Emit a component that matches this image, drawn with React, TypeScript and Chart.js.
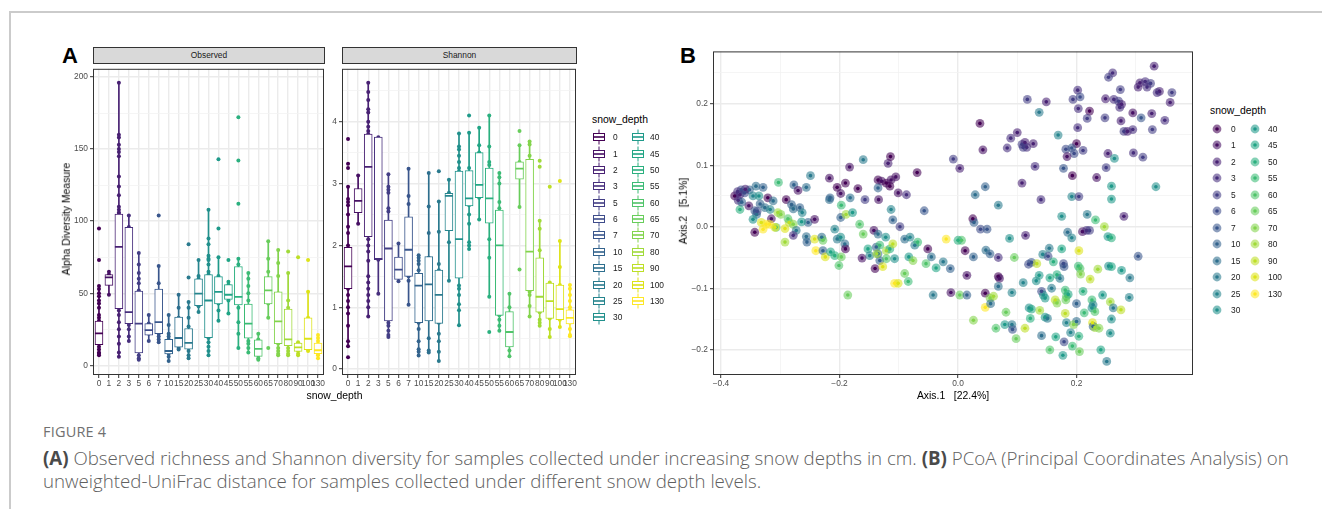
import React, { useEffect, useRef } from "react";
import { Chart, registerables } from "chart.js";

Chart.register(...registerables);

const FONT = '"Liberation Sans", Arial, Helvetica, sans-serif';
const CAPTION_FONT = '"Open Sans", "Noto Sans", sans-serif';
Chart.defaults.font.family = FONT;
Chart.defaults.color = "#4d4d4d";

// ---------- categories ----------
const depthLabels = ["0", "1", "2", "3", "5", "6", "7", "10", "15", "20", "25", "30", "40", "45", "50", "55", "60", "65", "70", "80", "90", "100", "130"];
const depthColors = ["#440154", "#471164", "#482173", "#472F7D", "#433E85", "#3E4C8A", "#39568C", "#33638D", "#2E6F8E", "#2A7A8E", "#26858E", "#21908C", "#1F9A8A", "#21A585", "#2BB07F", "#3BBB75", "#50C46A", "#68CD5B", "#83D44C", "#A0DA39", "#BDDF26", "#DDE318", "#FDE725"];

// ---------- Observed richness ----------
const obsLow = [7, 49, 6, 17, 4, 17, 16, 3, 11, 5, 37, 7, 31, 36, 12, 9, 4, 33, 7, 7, 7, 10, 5];
const obsQ1 = [14.3, 55.5, 39.4, 29, 8.6, 21, 22, 8, 12.7, 11.3, 41.4, 19.3, 42.6, 45.8, 42, 18.8, 6.3, 42.6, 15, 13.6, 9.7, 10.9, 8.2];
const obsMed = [22.2, 61, 82.2, 37, 29, 24.5, 30, 10, 19, 15.6, 49.8, 45, 51, 49, 47.5, 29, 11.5, 52, 30.5, 18, 12.5, 18.5, 10.5];
const obsQ3 = [30.8, 63, 105, 95.8, 51.6, 29, 53, 18, 33.5, 25.6, 60, 63, 61.6, 56, 68.6, 42.6, 17.7, 61.6, 51, 39, 15.4, 33, 15.4];
const obsHigh = [55, 65, 196, 104, 78, 35, 69, 35, 49, 44, 73, 108, 75, 58, 74, 64, 22, 86, 80, 64, 16, 51, 21];
const obsPoints: number[][] = [
  [95, 73, 55, 53, 50, 48, 45, 43, 40, 35, 33, 31, 28, 25, 22, 20, 18, 15, 13, 11, 9, 8, 7],
  [65, 63, 61, 60, 49],
  [196, 160, 158, 153, 150, 148, 145, 131, 124, 118, 110, 108, 106, 105, 100, 95, 90, 85, 82, 75, 70, 65, 60, 55, 50, 45, 38, 35, 30, 25, 20, 15, 9, 6],
  [104, 96, 90, 75, 60, 40, 37, 35, 30, 28, 25, 20, 17],
  [78, 70, 64, 60, 57, 52, 48, 45, 40, 35, 30, 25, 20, 15, 10, 7, 5, 4],
  [35, 29, 25, 22, 17],
  [104, 69, 57, 45, 40, 30, 22, 20, 18, 16],
  [35, 28, 22, 20, 18, 15, 12, 10, 8, 6, 3],
  [49, 40, 33, 28, 22, 19, 15, 12, 11],
  [84, 61, 44, 40, 33, 27, 22, 18, 15, 12, 10, 7, 5],
  [73, 62, 60, 52, 48, 44, 41, 37],
  [108, 88, 84, 76, 74, 73, 70, 65, 63, 55, 45, 40, 35, 30, 19, 16, 13, 10, 7],
  [143, 95, 75, 62, 55, 51, 47, 43, 38, 31],
  [73, 58, 56, 50, 47, 45, 36],
  [172, 142, 112, 74, 70, 64, 60, 55, 50, 47, 44, 40, 30, 22, 12],
  [64, 60, 55, 50, 45, 40, 35, 30, 25, 20, 17, 15, 12, 9],
  [22, 18, 14, 10, 7, 5, 4],
  [86, 74, 65, 60, 55, 52, 48, 43, 33, 12],
  [80, 71, 62, 50, 40, 30, 20, 15, 12, 10, 8, 7],
  [79, 64, 45, 40, 38, 30, 20, 18, 15, 12, 10, 8, 7],
  [75, 16, 15, 13, 12, 10, 8, 7],
  [73, 51, 33, 20, 15, 11, 10],
  [21, 19, 17, 15, 13, 11, 10, 8, 7, 5],
];

// ---------- Shannon diversity ----------
const shaLow = [0.37, 2.35, 0.85, 1.22, 0.52, 1.42, 1.04, 0.22, 0.27, 0.13, 1.43, 0.71, 1.94, 2.42, 1.17, 0.62, 0.21, 2.62, 0.85, 0.7, 0.52, 0.68, 0.53];
const shaQ1 = [1.3, 2.53, 2.14, 1.77, 0.78, 1.45, 1.5, 0.75, 0.78, 0.74, 2.24, 1.47, 2.64, 2.77, 2.36, 0.87, 0.36, 3.07, 1.27, 0.92, 0.82, 0.8, 0.73];
const shaMed = [1.66, 2.72, 3.27, 1.78, 1.95, 1.61, 1.93, 1.35, 1.37, 1.2, 2.8, 2.1, 2.76, 2.98, 2.76, 2.0, 0.6, 3.24, 1.9, 1.17, 1.1, 0.97, 0.83];
const shaQ3 = [1.97, 2.92, 3.8, 3.75, 2.41, 1.81, 2.46, 1.55, 1.82, 1.6, 2.84, 3.2, 3.21, 3.5, 3.25, 2.57, 0.93, 3.35, 3.39, 1.8, 1.39, 1.36, 0.96];
const shaHigh = [2.95, 3.13, 4.63, 3.75, 3.15, 2.03, 3.24, 1.84, 3.17, 2.71, 3.06, 3.81, 3.82, 3.9, 4.1, 3.17, 1.22, 3.62, 3.68, 2.4, 1.4, 2.07, 1.36];
const shaPoints: number[][] = [
  [3.72, 3.32, 3.25, 2.95, 2.75, 2.7, 2.65, 2.5, 2.3, 2.2, 2.0, 1.9, 1.8, 1.7, 1.6, 1.5, 1.3, 1.2, 1.1, 1.0, 0.9, 0.7, 0.45, 0.37, 0.19],
  [3.13, 2.72, 2.35],
  [4.63, 4.48, 4.35, 4.2, 4.15, 4.0, 3.92, 3.85, 3.8, 3.7, 3.6, 3.5, 3.3, 3.1, 2.9, 2.7, 2.5, 2.2, 2.1, 2.0, 1.9, 1.75, 1.5, 1.4, 1.3, 1.2, 1.1, 1.0, 0.85],
  [3.75, 1.77, 1.22],
  [3.15, 2.95, 2.9, 2.85, 2.6, 2.55, 2.2, 1.9, 1.6, 1.3, 1.0, 0.75, 0.7, 0.62, 0.55, 0.52],
  [2.03, 1.6, 1.42],
  [3.24, 2.8, 2.67, 2.0, 1.93, 1.5, 1.43, 1.04],
  [1.84, 1.8, 1.75, 1.7, 1.6, 1.5, 1.4, 1.3, 1.2, 1.0, 0.9, 0.75, 0.65, 0.45, 0.32, 0.28, 0.22],
  [3.17, 2.63, 2.2, 1.8, 1.4, 1.0, 0.5, 0.3, 0.27],
  [3.2, 2.71, 2.22, 1.7, 1.6, 1.5, 1.3, 1.0, 0.75, 0.57, 0.45, 0.28, 0.13],
  [3.06, 2.85, 2.8, 2.05, 1.43],
  [3.81, 3.6, 3.55, 3.45, 3.35, 3.25, 3.2, 3.0, 2.5, 2.1, 1.8, 1.5, 1.35, 1.3, 1.2, 1.05, 0.95, 0.71],
  [4.1, 3.82, 3.25, 3.0, 2.76, 2.65, 2.5, 2.35, 2.05, 2.0, 1.94],
  [3.9, 3.62, 3.5, 3.0, 2.77, 2.42],
  [4.1, 3.6, 3.35, 3.3, 3.2, 3.0, 2.8, 2.6, 2.4, 2.1, 1.8, 1.17, 0.6],
  [3.17, 3.1, 3.0, 2.7, 2.6, 2.5, 2.0, 1.5, 1.0, 0.87, 0.8, 0.7, 0.62],
  [1.22, 1.0, 0.8, 0.6, 0.4, 0.3, 0.21],
  [3.85, 3.62, 3.35, 3.24, 3.1, 2.62, 1.61],
  [3.68, 3.63, 3.45, 3.0, 2.5, 2.0, 1.5, 1.25, 1.2, 1.02, 0.85],
  [3.37, 3.27, 2.4, 2.27, 1.92, 1.75, 1.5, 1.2, 1.0, 0.92, 0.8, 0.75, 0.7],
  [2.95, 1.4, 1.35, 1.1, 0.95, 0.82, 0.65, 0.52],
  [3.04, 2.07, 1.65, 1.36, 1.0, 0.9, 0.8, 0.68],
  [1.36, 1.3, 1.2, 1.1, 1.0, 0.95, 0.85, 0.75, 0.65, 0.55, 0.53],
];

// ---------- PCoA samples: [Axis.1, Axis.2, snow_depth] ----------
const pcoaSamples: number[][] = [
  [0.331, 0.261, 2], [0.261, 0.25, 3], [0.254, 0.243, 5], [0.307, 0.234, 2], [0.316, 0.236, 3], [0.325, 0.233, 5],
  [0.304, 0.227, 2], [0.319, 0.227, 3], [0.274, 0.223, 5], [0.34, 0.22, 2], [0.336, 0.218, 3], [0.361, 0.218, 5],
  [0.358, 0.202, 2], [0.202, 0.222, 3], [0.206, 0.211, 6], [0.194, 0.207, 5], [0.249, 0.208, 2], [0.263, 0.207, 3],
  [0.271, 0.204, 5], [0.276, 0.199, 2], [0.273, 0.194, 3], [0.117, 0.207, 5], [0.149, 0.203, 2], [0.137, 0.186, 20],
  [0.203, 0.192, 3], [0.222, 0.188, 0], [0.218, 0.176, 5], [0.295, 0.185, 1], [0.327, 0.184, 2], [0.309, 0.177, 7],
  [0.349, 0.173, 3], [0.248, 0.177, 5], [0.275, 0.172, 2], [0.037, 0.168, 0], [0.202, 0.161, 3], [0.28, 0.155, 5],
  [0.286, 0.155, 2], [0.295, 0.158, 3], [0.328, 0.158, 5], [0.169, 0.149, 25], [0.1, 0.153, 2], [0.089, 0.144, 3],
  [0.108, 0.134, 5], [0.113, 0.137, 2], [0.116, 0.129, 3], [0.11, 0.129, 5], [0.127, 0.135, 2], [0.083, 0.128, 3],
  [0.042, 0.125, 1], [0.2, 0.135, 0], [0.182, 0.126, 6], [0.192, 0.128, 7], [0.196, 0.119, 6], [0.184, 0.114, 1],
  [0.211, 0.124, 5], [0.253, 0.119, 2], [0.264, 0.111, 30], [0.296, 0.12, 3], [0.312, 0.113, 5], [0.003, 0.095, 2],
  [0.13, 0.098, 3], [0.178, 0.095, 7], [0.193, 0.083, 0], [0.234, 0.08, 1], [0.25, 0.096, 5], [0.108, 0.071, 2],
  [0.046, 0.065, 10], [0.029, 0.052, 15], [0.259, 0.066, 40], [0.334, 0.065, 30], [0.068, 0.035, 20], [0.14, 0.044, 3],
  [0.192, 0.049, 25], [0.204, 0.049, 5], [0.259, 0.045, 40], [0.025, 0.013, 0], [0.027, 0.007, 10], [0.175, 0.017, 30],
  [0.218, 0.02, 20], [0.232, 0.011, 55], [0.28, 0.017, 2], [0.038, -0.004, 6], [0.049, -0.004, 7], [0.247, 0.0, 80],
  [0.21, -0.008, 1], [0.217, -0.006, 3], [0.222, -0.006, 5], [0.185, -0.009, 15], [0.192, -0.018, 25], [0.087, -0.019, 30],
  [0.114, -0.014, 2], [0.253, -0.016, 40], [0.259, -0.018, 50], [0.006, -0.022, 60], [0.012, -0.039, 0], [0.026, -0.049, 10],
  [0.047, -0.038, 15], [0.054, -0.044, 10], [0.068, -0.05, 3], [0.095, -0.05, 65], [0.154, -0.035, 20], [0.175, -0.036, 45],
  [0.143, -0.045, 25], [0.152, -0.048, 6], [0.204, -0.039, 100], [0.304, -0.048, 7], [0.119, -0.061, 6], [0.124, -0.058, 7],
  [0.133, -0.06, 90], [0.161, -0.057, 50], [0.178, -0.06, 6], [0.179, -0.065, 7], [0.203, -0.064, 55], [0.206, -0.068, 60],
  [0.207, -0.077, 70], [0.236, -0.069, 80], [0.254, -0.064, 30], [0.259, -0.065, 45], [0.276, -0.071, 40], [0.29, -0.083, 20],
  [0.223, -0.085, 90], [0.015, -0.079, 1], [0.068, -0.081, 0], [0.07, -0.084, 1], [0.068, -0.097, 15], [0.11, -0.091, 25],
  [0.132, -0.088, 30], [0.137, -0.079, 40], [0.155, -0.083, 45], [0.167, -0.078, 50], [0.172, -0.084, 20], [0.003, -0.111, 65],
  [0.015, -0.111, 10], [0.046, -0.108, 0], [0.054, -0.116, 70], [0.06, -0.113, 80], [0.046, -0.131, 130], [0.055, -0.125, 15],
  [0.091, -0.107, 25], [0.141, -0.105, 6], [0.144, -0.111, 30], [0.147, -0.116, 40], [0.158, -0.1, 20], [0.181, -0.103, 55],
  [0.183, -0.113, 60], [0.186, -0.11, 45], [0.182, -0.119, 65], [0.164, -0.119, 90], [0.167, -0.124, 70], [0.2, -0.125, 10],
  [0.211, -0.105, 50], [0.226, -0.119, 55], [0.228, -0.127, 25], [0.226, -0.132, 30], [0.231, -0.138, 60], [0.244, -0.111, 40],
  [0.257, -0.122, 80], [0.262, -0.132, 20], [0.275, -0.135, 90], [0.289, -0.115, 25], [0.026, -0.152, 70], [0.081, -0.139, 65],
  [0.12, -0.132, 30], [0.124, -0.134, 45], [0.138, -0.136, 80], [0.147, -0.147, 40], [0.151, -0.149, 20], [0.122, -0.149, 50],
  [0.181, -0.141, 90], [0.183, -0.156, 25], [0.2, -0.154, 15], [0.195, -0.159, 70], [0.213, -0.14, 55], [0.227, -0.156, 100],
  [0.228, -0.162, 10], [0.231, -0.164, 80], [0.238, -0.165, 70], [0.259, -0.15, 30], [0.064, -0.165, 60], [0.079, -0.159, 40],
  [0.091, -0.159, 20], [0.092, -0.167, 7], [0.113, -0.165, 90], [0.098, -0.182, 65], [0.141, -0.177, 15], [0.165, -0.179, 45],
  [0.19, -0.172, 25], [0.204, -0.178, 50], [0.257, -0.173, 30], [0.179, -0.187, 6], [0.193, -0.194, 55], [0.155, -0.2, 60],
  [0.177, -0.209, 40], [0.205, -0.203, 65], [0.241, -0.2, 45], [0.251, -0.219, 20],
  [-0.377, 0.05, 0], [-0.368, 0.052, 2], [-0.36, 0.055, 6], [-0.371, 0.043, 3], [-0.352, 0.06, 10], [-0.341, 0.066, 15],
  [-0.329, 0.064, 10], [-0.346, 0.05, 25], [-0.336, 0.05, 30], [-0.368, 0.028, 50], [-0.353, 0.034, 1], [-0.321, 0.047, 0],
  [-0.312, 0.042, 15], [-0.303, 0.072, 55], [-0.277, 0.068, 10], [-0.27, 0.059, 1], [-0.256, 0.064, 15], [-0.249, 0.083, 20],
  [-0.29, 0.044, 0], [-0.281, 0.036, 10], [-0.278, 0.029, 15], [-0.267, 0.031, 10], [-0.263, 0.023, 25], [-0.343, 0.026, 7],
  [-0.34, 0.02, 15], [-0.346, 0.012, 30], [-0.332, 0.007, 100], [-0.324, 0.004, 130], [-0.315, 0.013, 1], [-0.304, 0.023, 80],
  [-0.307, -0.001, 60], [-0.292, -0.003, 100], [-0.285, 0.007, 90], [-0.278, 0.004, 70], [-0.273, -0.006, 20], [-0.278, -0.014, 3],
  [-0.343, -0.009, 0], [-0.329, -0.004, 130], [-0.292, -0.025, 80], [-0.253, 0.007, 10], [-0.264, 0.008, 40], [-0.242, 0.012, 1],
  [-0.256, -0.016, 15], [-0.255, -0.025, 10], [-0.242, -0.02, 100], [-0.23, -0.017, 15], [-0.228, -0.022, 65], [-0.24, -0.039, 130],
  [-0.228, -0.039, 10], [-0.224, -0.049, 100], [-0.215, -0.041, 45], [-0.208, -0.047, 50], [-0.201, -0.063, 60], [-0.197, -0.049, 65],
  [-0.208, -0.004, 25], [-0.198, -0.017, 30], [-0.204, -0.02, 20], [-0.191, -0.028, 15], [-0.19, -0.036, 0], [-0.198, 0.015, 10],
  [-0.189, 0.02, 80], [-0.178, 0.023, 40], [-0.197, 0.035, 55], [-0.217, 0.044, 15], [-0.216, 0.047, 10], [-0.217, 0.079, 1],
  [-0.204, 0.064, 0], [-0.198, 0.054, 1], [-0.19, 0.071, 0], [-0.183, 0.097, 1], [-0.182, 0.047, 15], [-0.169, 0.062, 0],
  [-0.16, 0.109, 20], [-0.157, 0.044, 5], [-0.134, 0.044, 1], [-0.135, 0.076, 0], [-0.129, 0.074, 1], [-0.121, 0.071, 0],
  [-0.113, 0.076, 1], [-0.115, 0.066, 0], [-0.105, 0.081, 1], [-0.118, 0.103, 2], [-0.114, 0.114, 0], [-0.135, 0.063, 10],
  [-0.101, 0.055, 1], [-0.087, 0.052, 3], [-0.069, 0.088, 0], [-0.113, 0.028, 25], [-0.166, 0.004, 60], [-0.16, -0.012, 65],
  [-0.142, -0.006, 1], [-0.135, -0.012, 15], [-0.122, -0.017, 30], [-0.11, 0.011, 10], [-0.098, 0.0, 5], [-0.09, -0.02, 15],
  [-0.073, -0.03, 20], [-0.068, -0.025, 55], [-0.051, -0.036, 0], [-0.152, -0.036, 45], [-0.149, -0.047, 25], [-0.162, -0.051, 1],
  [-0.138, -0.033, 10], [-0.135, -0.044, 15], [-0.121, -0.039, 80], [-0.115, -0.036, 50], [-0.11, -0.028, 90], [-0.132, -0.055, 10],
  [-0.121, -0.052, 60], [-0.107, -0.052, 30], [-0.14, -0.068, 0], [-0.127, -0.065, 100], [-0.09, -0.076, 65], [-0.084, -0.089, 55],
  [-0.107, -0.092, 130], [-0.101, -0.092, 100], [-0.083, -0.049, 40], [-0.076, -0.055, 70], [-0.054, -0.06, 60], [-0.045, -0.049, 15],
  [-0.037, -0.067, 45], [-0.025, -0.057, 20], [-0.013, -0.068, 10], [-0.02, -0.02, 130], [0.0, -0.022, 50], [-0.008, 0.11, 5],
  [-0.057, 0.026, 7], [-0.186, -0.111, 65], [-0.042, -0.111, 20], [-0.012, -0.107, 1], [-0.081, -0.017, 25], [-0.132, -0.03, 55],
  [-0.137, -0.044, 80], [-0.359, 0.061, 2], [-0.366, 0.06, 6], [-0.334, 0.037, 10], [-0.326, 0.031, 15], [-0.317, 0.028, 25],
  [-0.339, 0.025, 6], [-0.309, -0.001, 100], [-0.318, 0.004, 130], [-0.299, 0.02, 70], [-0.287, 0.013, 60], [-0.365, 0.04, 10],
  [-0.372, 0.057, 3],
];

// ---------- tick lists ----------
const obsYTicks = [0, 25, 50, 75, 100, 125, 150, 175, 200];
const obsYMajor = [0, 50, 100, 150, 200];
const shaYTicks = [0, 0.5, 1, 1.5, 2, 2.5, 3, 3.5, 4, 4.5];
const shaYMajor = [0, 1, 2, 3, 4];
const pcoaXTicks = [-0.4, -0.3, -0.2, -0.1, 0, 0.1, 0.2, 0.3];
const pcoaXMajor = [-0.4, -0.2, 0, 0.2];
const pcoaYTicks = [-0.2, -0.15, -0.1, -0.05, 0, 0.05, 0.1, 0.15, 0.2, 0.25];
const pcoaYMajor = [-0.2, -0.1, 0, 0.1, 0.2];

// ---------- helpers ----------
const TICK_SIZE = 8.4;
const TITLE_SIZE = 10.4;

function hexA(hex: string, a: number) {
  const r = parseInt(hex.slice(1, 3), 16), g = parseInt(hex.slice(3, 5), 16), b = parseInt(hex.slice(5, 7), 16);
  return `rgba(${r},${g},${b},${a})`;
}
const colorOfDepth = (d: number) => depthColors[depthLabels.indexOf(String(d))];

const framePlugin = {
  id: "panelFrame",
  afterDatasetsDraw(chart: any) {
    const { ctx, chartArea } = chart;
    ctx.save();
    ctx.strokeStyle = "#333333";
    ctx.lineWidth = 1;
    ctx.strokeRect(chartArea.left + 0.5, chartArea.top + 0.5, chartArea.right - chartArea.left - 1, chartArea.bottom - chartArea.top - 1);
    ctx.restore();
  },
};

function near(list: number[], v: number) {
  return list.some((m) => Math.abs(m - v) < 1e-9);
}

function numAxis(axis: "x" | "y", min: number, max: number, ticks: number[], major: number[], size: number, fmt: (v: number) => string) {
  const isMajor = (ctx: any) => (ctx && ctx.tick ? near(major, ctx.tick.value) : true);
  return {
    type: "linear",
    min,
    max,
    offset: false,
    afterBuildTicks: (s: any) => {
      s.ticks = ticks.map((v) => ({ value: v }));
    },
    afterFit: (s: any) => {
      if (axis === "y") s.width = size;
      else s.height = size;
      s.paddingTop = 0;
      s.paddingBottom = 0;
      s.paddingLeft = 0;
      s.paddingRight = 0;
    },
    ticks: {
      autoSkip: false,
      maxRotation: 0,
      minRotation: 0,
      padding: axis === "y" ? 2 : 1,
      color: "#4d4d4d",
      font: { size: TICK_SIZE, family: FONT },
      callback: (v: number) => (near(major, v) ? fmt(v) : ""),
    },
    grid: {
      offset: false,
      color: (c: any) => (isMajor(c) ? "#ebebeb" : "#f3f3f3"),
      lineWidth: (c: any) => (isMajor(c) ? 1.4 : 0.8),
      tickColor: (c: any) => (isMajor(c) ? "#333333" : "rgba(0,0,0,0)"),
      tickLength: 3,
      tickWidth: 1,
    },
    border: { display: false },
  };
}

function boxChartConfig(low: number[], q1: number[], med: number[], q3: number[], high: number[], pts: number[][], yMin: number, yMax: number, yTicks: number[], yMajor: number[], yWidth: number) {
  const pointData: any[] = [];
  const pointColors: string[] = [];
  pts.forEach((arr, i) =>
    arr.forEach((v) => {
      pointData.push({ x: i, y: v });
      pointColors.push(depthColors[i]);
    })
  );
  const catIdx = depthLabels.map((_, i) => i);
  return {
    type: "bar",
    data: {
      datasets: [
        {
          type: "scatter",
          data: pointData,
          pointBackgroundColor: pointColors,
          pointBorderWidth: 0,
          pointRadius: 2,
          order: 4,
        },
        {
          type: "bar",
          data: low.map((l, i) => ({ x: i, y: [l, high[i]] })),
          backgroundColor: depthColors,
          borderWidth: 0,
          barThickness: 1,
          grouped: false,
          order: 3,
        },
        {
          type: "bar",
          data: q1.map((q, i) => ({ x: i, y: [q, q3[i]] })),
          backgroundColor: "#ffffff",
          borderColor: depthColors,
          borderWidth: 1,
          borderSkipped: false,
          barThickness: 8,
          grouped: false,
          order: 2,
        },
        {
          type: "scatter",
          data: med.map((m, i) => ({ x: i, y: m })),
          pointStyle: "line",
          pointRadius: 4,
          pointBorderColor: depthColors,
          pointBorderWidth: 1.8,
          order: 1,
        },
      ],
    },
    options: {
      animation: false,
      responsive: false,
      maintainAspectRatio: false,
      events: [],
      layout: { padding: { left: 0, right: 6, top: 0, bottom: 0 } },
      plugins: { legend: { display: false }, tooltip: { enabled: false } },
      scales: {
        x: numAxis("x", -0.6, catIdx.length - 0.4, catIdx, catIdx, 25, (v) => depthLabels[v]),
        y: numAxis("y", yMin, yMax, yTicks, yMajor, yWidth, (v) => String(v)),
      },
    },
    plugins: [framePlugin],
  };
}

const fmtDec = (v: number) => (Math.abs(v) < 1e-9 ? "0.0" : (v < 0 ? "\u2212" : "") + Math.abs(v).toFixed(1));

function pcoaConfig() {
  const pts = pcoaSamples.map((s) => ({ x: s[0], y: s[1] }));
  const solid = pcoaSamples.map((s) => colorOfDepth(s[2]));
  const halo = pcoaSamples.map((s) => hexA(colorOfDepth(s[2]), 0.58));
  return {
    type: "scatter",
    data: {
      datasets: [
        { data: pts, pointRadius: 4.4, pointBackgroundColor: halo, pointBorderWidth: 0, order: 2 },
        { data: pts, pointRadius: 1.8, pointBackgroundColor: solid, pointBorderWidth: 0, order: 1 },
      ],
    },
    options: {
      animation: false,
      responsive: false,
      maintainAspectRatio: false,
      events: [],
      layout: { padding: { left: 0, right: 6, top: 0, bottom: 0 } },
      plugins: { legend: { display: false }, tooltip: { enabled: false } },
      scales: {
        x: numAxis("x", -0.4135, 0.3966, pcoaXTicks, pcoaXMajor, 25, fmtDec),
        y: numAxis("y", -0.241, 0.285, pcoaYTicks, pcoaYMajor, 53, fmtDec),
      },
    },
    plugins: [framePlugin],
  };
}

function ChartCanvas(props: { left: number; top: number; width: number; height: number; make: () => any }) {
  const ref = useRef<HTMLCanvasElement>(null);
  useEffect(() => {
    const chart = new Chart(ref.current as HTMLCanvasElement, props.make());
    return () => chart.destroy();
  }, []);
  return (
    <canvas
      ref={ref}
      width={props.width}
      height={props.height}
      style={{ position: "absolute", left: props.left, top: props.top, width: props.width, height: props.height }}
    />
  );
}

function Txt(props: { x: number; y: number; size: number; children: any; anchor?: "left" | "center"; rotate?: boolean; bold?: boolean; color?: string; family?: string; weight?: number; style?: any }) {
  const { x, y, size, anchor = "left", rotate, bold, color = "#000", family = FONT } = props;
  const tr = rotate ? "translate(-50%,-50%) rotate(-90deg)" : anchor === "center" ? "translate(-50%,-50%)" : "translate(0,-50%)";
  return (
    <div
      style={{
        position: "absolute",
        left: x,
        top: y,
        transform: tr,
        fontFamily: family,
        fontSize: size,
        lineHeight: 1,
        fontWeight: bold ? 700 : props.weight || 400,
        color,
        whiteSpace: "pre",
        ...(props.style || {}),
      }}
    >
      {props.children}
    </div>
  );
}

function BoxKey({ x, y, color }: { x: number; y: number; color: string }) {
  return (
    <svg width={16} height={16} style={{ position: "absolute", left: x - 8, top: y - 8 }}>
      <line x1={8} y1={0.5} x2={8} y2={15.5} stroke={color} strokeWidth={1} />
      <rect x={2.5} y={4.5} width={11} height={7} fill="#fff" stroke={color} strokeWidth={1} />
      <line x1={2.5} y1={8} x2={13.5} y2={8} stroke={color} strokeWidth={1.6} />
    </svg>
  );
}

function DotKey({ x, y, color }: { x: number; y: number; color: string }) {
  return (
    <svg width={12} height={12} style={{ position: "absolute", left: x - 6, top: y - 6 }}>
      <circle cx={6} cy={6} r={4.4} fill={hexA(color, 0.58)} />
      <circle cx={6} cy={6} r={1.8} fill={color} />
    </svg>
  );
}

export default function App() {
  const legendA: any[] = [];
  const legendB: any[] = [];
  depthLabels.forEach((lab, i) => {
    const col = i < 12 ? 0 : 1;
    const row = i < 12 ? i : i - 12;
    const ya = 137.3 + 16.36 * row;
    const yb = 129 + 16.45 * row;
    legendA.push(<BoxKey key={"ka" + i} x={col === 0 ? 598.5 : 637.5} y={ya} color={depthColors[i]} />);
    legendA.push(
      <Txt key={"ta" + i} x={col === 0 ? 613 : 650} y={ya} size={TICK_SIZE} color="#1a1a1a">
        {lab}
      </Txt>
    );
    legendB.push(<DotKey key={"kb" + i} x={col === 0 ? 1217 : 1255} y={yb} color={depthColors[i]} />);
    legendB.push(
      <Txt key={"tb" + i} x={col === 0 ? 1231 : 1268} y={yb} size={TICK_SIZE} color="#1a1a1a">
        {lab}
      </Txt>
    );
  });

  const strip = (left: number, width: number, label: string) => (
    <div
      style={{
        position: "absolute",
        left,
        top: 47,
        width,
        height: 17,
        boxSizing: "border-box",
        background: "#d9d9d9",
        border: "1px solid #333333",
        fontFamily: FONT,
        fontSize: TICK_SIZE,
        color: "#1a1a1a",
        display: "flex",
        alignItems: "center",
        justifyContent: "center",
        lineHeight: 1,
      }}
    >
      {label}
    </div>
  );

  const capColor = "#606060";

  return (
    <div style={{ position: "fixed", left: 0, top: 0, width: 1322, height: 509, background: "#fff", overflow: "hidden" }}>
      <div style={{ position: "absolute", left: 9, top: 11, width: 1330, height: 520, borderTop: "2px solid #cbcbcb", borderLeft: "2px solid #cbcbcb" }} />

      {/* Panel A */}
      <Txt x={62} y={55.5} size={22} bold>A</Txt>
      {strip(93, 232, "Observed")}
      {strip(342, 235, "Shannon")}
      <ChartCanvas left={45} top={63} width={285} height={337} make={() => boxChartConfig(obsLow, obsQ1, obsMed, obsQ3, obsHigh, obsPoints, -6.65, 205.65, obsYTicks, obsYMajor, 48)} />
      <ChartCanvas left={312} top={63} width={270} height={337} make={() => boxChartConfig(shaLow, shaQ1, shaMed, shaQ3, shaHigh, shaPoints, -0.095, 4.855, shaYTicks, shaYMajor, 30)} />
      <Txt x={67} y={219} size={TITLE_SIZE} rotate>Alpha Diversity Measure</Txt>
      <Txt x={334.5} y={395.5} size={TITLE_SIZE} anchor="center">snow_depth</Txt>
      <Txt x={592} y={120} size={TITLE_SIZE}>snow_depth</Txt>
      {legendA}

      {/* Panel B */}
      <Txt x={680} y={55.5} size={22} bold>B</Txt>
      <ChartCanvas left={660} top={47} width={539} height={353} make={pcoaConfig} />
      <Txt x={953} y={396} size={TITLE_SIZE} anchor="center">{"Axis.1   [22.4%]"}</Txt>
      <Txt x={684} y={211} size={TITLE_SIZE} rotate>{"Axis.2   [5.1%]"}</Txt>
      <Txt x={1210} y={111} size={TITLE_SIZE}>snow_depth</Txt>
      {legendB}

      {/* Caption */}
      <Txt x={43} y={432} size={14.5} family={CAPTION_FONT} color="#707070" weight={400} style={{ letterSpacing: "0.2px" }}>FIGURE 4</Txt>
      <Txt x={43} y={458} size={18.7} family={CAPTION_FONT} color={capColor} weight={300}>
        <b style={{ color: "#4a4a4a", fontWeight: 700 }}>(A)</b> Observed richness and Shannon diversity for samples collected under increasing snow depths in cm. <b style={{ color: "#4a4a4a", fontWeight: 700 }}>(B)</b> PCoA (Principal Coordinates Analysis) on
      </Txt>
      <Txt x={43} y={481} size={18.7} family={CAPTION_FONT} color={capColor} weight={300}>
        unweighted-UniFrac distance for samples collected under different snow depth levels.
      </Txt>
    </div>
  );
}
